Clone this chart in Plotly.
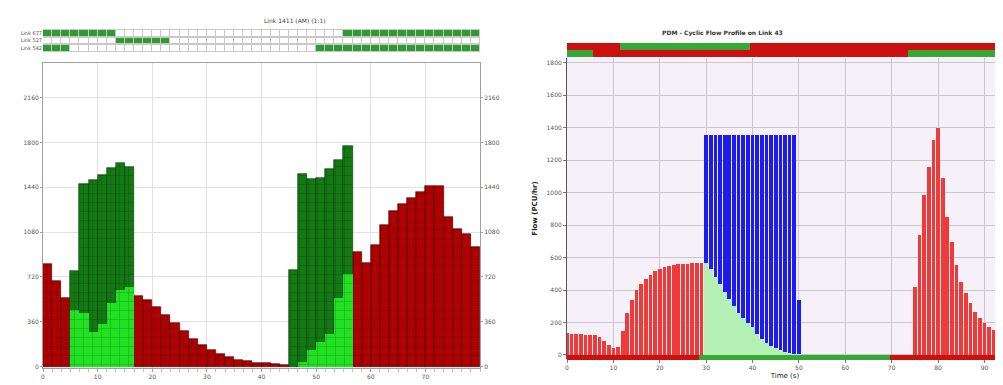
import numpy as np
import plotly.graph_objects as go

# ---------------- left panel: cyclic flow on link 1411 (48 slices over an 80 s cycle)
left_cycle = 80
left_flow = [821, 684, 553, 765, 1471, 1503, 1538, 1592, 1637, 1600,
             564, 531, 475, 415, 350, 285, 225, 175, 135, 100,
             75, 55, 42, 32, 25, 20, 16, 778, 1546, 1511,
             1519, 1584, 1659, 1772, 920, 832, 974, 1140, 1248, 1304,
             1358, 1403, 1449, 1449, 1202, 1108, 1068, 960]
# slice index ranges of the two green periods (start, end exclusive)
left_green_slices = [(3, 10), (27, 34)]
# bright green (saturated part) inside each green period
left_green_inner = [451, 427, 276, 344, 510, 612, 639,
                    0, 40, 129, 196, 265, 548, 746]
left_ticks = [0, 10, 20, 30, 40, 50, 60, 70]

# signal strip above the left chart: green slice ranges per link
strip_links = ["Link 677", "Link 527", "Link 542"]
strip_green = [[(0, 8), (33, 48)], [(8, 14)], [(0, 3), (30, 48)]]

# ---------------- right panel: PDM cyclic flow profile on link 43 (1 s bars)
right_red_early = [135, 132, 130, 128, 126, 124, 120, 110, 85, 60,
                   45, 50, 150, 260, 340, 400, 440, 470, 495, 515,
                   530, 540, 548, 554, 558, 561, 563, 565, 566, 567]          # t = 0..29
right_blue = [1354, 1354, 1354, 1354, 1354, 1354, 1354, 1354, 1354, 1354,
              1354, 1354, 1354, 1354, 1354, 1354, 1354, 1354, 1354, 1354, 338]  # t = 30..50
right_green = [566, 530, 480, 435, 390, 345, 300, 260, 225, 195,
               170, 130, 100, 75, 55, 40, 28, 18, 10, 5, 2]                    # t = 30..50
right_red_late = [418, 738, 985, 1157, 1323, 1397, 1089, 849, 695, 554,
                  449, 381, 320, 265, 228, 197, 172, 154, 135, 120]            # t = 75..94
right_t_blue = 30
right_t_late = 75
right_end = 95
# signal rows (start, end, colour) in seconds
right_top_rows = [[(0, 12, "R"), (12, 40, "G"), (40, 95, "R")],
                  [(0, 6, "G"), (6, 74, "R"), (74, 95, "G")]]
right_bottom_row = [(0, 29, "R"), (29, 70, "G"), (70, 95, "R")]

# page body has an 8px margin, so the figure is drawn 8px in from the window corner
OFF = 8
W, H = 1003 - OFF, 385 - OFF
def px_x(a, b):
    return [(a - OFF) / W, (b - OFF) / W]
def px_y(top, bottom):
    return [1 - (bottom - OFF) / H, 1 - (top - OFF) / H]

tick_font = dict(family="DejaVu Sans", size=6, color="#555555")
fig = go.Figure()

# ---- left chart bars
slice_w = left_cycle / len(left_flow)
left_x = (np.arange(len(left_flow)) + 0.5) * slice_w
is_green = np.zeros(len(left_flow), bool)
for a, b in left_green_slices:
    is_green[a:b] = True
flow = np.array(left_flow)
inner = np.zeros(len(left_flow))
inner[is_green] = left_green_inner

cells = dict(shape="+", size=9, solidity=0.12, fgcolor="rgba(0,0,0,0.5)", fillmode="overlay")
fig.add_trace(go.Bar(x=left_x[~is_green], y=flow[~is_green], width=slice_w,
                     marker=dict(color="#b00000", line=dict(color="#400000", width=0.6), pattern=cells),
                     xaxis="x", yaxis="y"))
fig.add_trace(go.Bar(x=left_x[is_green], y=flow[is_green], width=slice_w,
                     marker=dict(color="#137a13", line=dict(color="#003000", width=0.6), pattern=cells),
                     xaxis="x", yaxis="y"))
fig.add_trace(go.Bar(x=left_x[is_green], y=inner[is_green], width=slice_w,
                     marker=dict(color="#22e022", line=dict(width=0), pattern=cells),
                     xaxis="x", yaxis="y"))
# invisible copy so the right-hand value axis gets drawn
fig.add_trace(go.Scatter(x=left_x, y=flow, mode="markers", marker=dict(opacity=0),
                         hoverinfo="skip", xaxis="x", yaxis="y2"))

# ---- left signal strip
strip_z = np.zeros((len(strip_links), len(left_flow)))
for r, segs in enumerate(strip_green):
    for a, b in segs:
        strip_z[r, a:b] = 1
fig.add_trace(go.Heatmap(x=left_x, y=strip_links, z=strip_z, xgap=1, ygap=2, showscale=False,
                         colorscale=[[0, "#ffffff"], [1, "#2f9a2f"]], zmin=0, zmax=1,
                         xaxis="x2", yaxis="y3", hoverinfo="skip"))

# ---- right chart bars
t_early = np.arange(len(right_red_early))
t_blue = right_t_blue + np.arange(len(right_blue))
t_late = right_t_late + np.arange(len(right_red_late))
bw = 0.8
fig.add_trace(go.Bar(x=t_early, y=right_red_early, width=bw, marker=dict(color="#f03a3a", line=dict(width=0)),
                     xaxis="x3", yaxis="y4"))
fig.add_trace(go.Bar(x=t_blue, y=right_blue, width=bw, marker=dict(color="#1c1cf0", line=dict(width=0)),
                     xaxis="x3", yaxis="y4"))
fig.add_trace(go.Bar(x=t_blue, y=right_green, width=1.0, marker=dict(color="#b4f0b4", line=dict(width=0)),
                     xaxis="x3", yaxis="y4"))
fig.add_trace(go.Bar(x=t_late, y=right_red_late, width=bw, marker=dict(color="#f03a3a", line=dict(width=0)),
                     xaxis="x3", yaxis="y4"))

def phase_cells(segs):
    row = np.zeros(right_end)
    for a, b, c in segs:
        row[a:b] = 1 if c == "G" else 0
    return row

secs = np.arange(right_end)
sig_scale = [[0, "#cc1010"], [1, "#35a835"]]
fig.add_trace(go.Heatmap(x=secs, y=[1, 0], z=[phase_cells(r) for r in right_top_rows], showscale=False,
                         colorscale=sig_scale, zmin=0, zmax=1, xaxis="x4", yaxis="y5", hoverinfo="skip"))
fig.add_trace(go.Heatmap(x=secs, y=[0], z=[phase_cells(right_bottom_row)], showscale=False,
                         colorscale=sig_scale, zmin=0, zmax=1, xaxis="x4", yaxis="y6", hoverinfo="skip"))

# ---- axes
lx, ly = px_x(43, 480), px_y(63, 368)
rx, ry = px_x(567, 1003), px_y(58, 359)
grid = "#e2e2e2"
fig.update_layout(
    width=W, height=H, margin=dict(l=0, r=0, t=0, b=0),
    paper_bgcolor="white", plot_bgcolor="white", showlegend=False,
    barmode="overlay", bargap=0,
    xaxis=dict(domain=lx, range=[0, left_cycle], tickvals=left_ticks, showgrid=True, gridcolor=grid,
               showline=True, mirror=True, linecolor="#a0a0a0", ticks="outside", ticklen=3,
               tickcolor="#a0a0a0", tickfont=tick_font, zeroline=False, automargin=False,
               minor=dict(dtick=slice_w, tick0=0, ticks="outside", ticklen=3, tickcolor="#c0c0c0", showgrid=False)),
    yaxis=dict(domain=ly, range=[-12, 2440], dtick=360, showgrid=True, gridcolor=grid,
               showline=True, mirror=True, linecolor="#a0a0a0", ticks="outside", ticklen=2,
               tickcolor="#a0a0a0", tickfont=tick_font, zeroline=False, automargin=False),
    yaxis2=dict(overlaying="y", anchor="x", side="right", range=[-12, 2440], dtick=360, showgrid=False,
                ticks="outside", ticklen=2, tickcolor="#a0a0a0", tickfont=tick_font, zeroline=False,
                automargin=False),
    xaxis2=dict(domain=lx, range=[0, left_cycle], anchor="y3", visible=False),
    yaxis3=dict(domain=px_y(29, 52), anchor="x2", autorange="reversed", automargin=False,
                tickfont=dict(family="DejaVu Sans", size=5, color="#555"),
                showgrid=False, zeroline=False, ticklen=0),
    xaxis3=dict(domain=rx, range=[0, 94], dtick=10, showgrid=True, gridcolor="#c9c6cf", anchor="y4",
                ticks="outside", ticklen=3, tickcolor="#777", tickfont=tick_font, zeroline=False,
                automargin=False,
                title=dict(text="Time (s)", font=dict(family="DejaVu Sans", size=7, color="#222"), standoff=2)),
    yaxis4=dict(domain=ry, range=[-25, 1830], dtick=200, showgrid=True, gridcolor="#c9c6cf", anchor="x3",
                showline=True, linecolor="#555", ticks="outside", ticklen=3, tickcolor="#777",
                tickfont=tick_font, zeroline=False, automargin=False,
                title=dict(text="<b>Flow (PCU/hr)</b>", font=dict(family="DejaVu Sans", size=7, color="#222"), standoff=8)),
    xaxis4=dict(domain=rx, range=[0, 94], anchor="y5", visible=False),
    yaxis5=dict(domain=px_y(43, 57), range=[-0.5, 1.5], anchor="x4", visible=False),
    yaxis6=dict(domain=px_y(355, 360), range=[-0.5, 0.5], anchor="x4", visible=False),
    shapes=[
        dict(type="rect", xref="x2 domain", yref="y3 domain", x0=0, x1=1, y0=0, y1=1,
             fillcolor="#c8c8c8", line=dict(width=0), layer="below"),
        dict(type="rect", xref="x3 domain", yref="y4 domain", x0=0, x1=1, y0=0, y1=1,
             fillcolor="#f6f1f8", line=dict(width=0), layer="below"),
    ],
    annotations=[
        dict(text="Link 1411 (AM) (1:1)", x=(262 - OFF) / W, y=1 - (15 - OFF) / H, xref="paper", yref="paper",
             showarrow=False, font=dict(family="DejaVu Sans", size=6, color="#444")),
        dict(text="<b>PDM - Cyclic Flow Profile on Link 43</b>", x=(785 - OFF) / W, y=1 - (27 - OFF) / H,
             xref="paper", yref="paper", showarrow=False,
             font=dict(family="DejaVu Sans", size=6, color="#333")),
    ],
)

fig.write_html("out.html")
